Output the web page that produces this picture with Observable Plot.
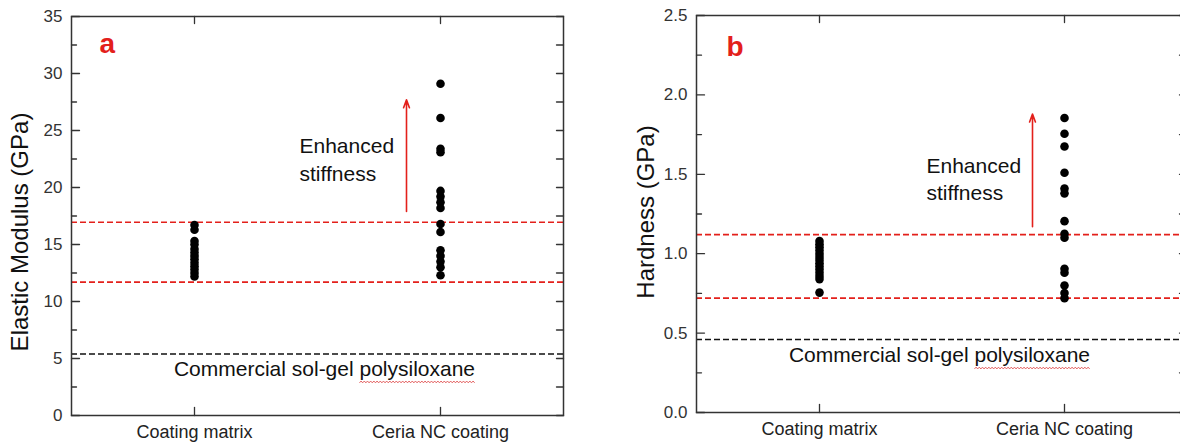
<!DOCTYPE html>
<html><head><meta charset="utf-8">
<script src="https://cdn.jsdelivr.net/npm/d3@7"></script>
<script src="https://cdn.jsdelivr.net/npm/@observablehq/plot@0.6"></script>
<style>
html,body{margin:0;padding:0;background:#fff;}
#wrap{width:1180px;height:447px;overflow:hidden;display:flex;}
#wrap > div{flex:none;width:600px;height:447px;}
</style></head>
<body><div id="wrap"><div id="pa"></div><div id="pb"></div></div>
<script>
// ---- data ----
const categories = ["Coating matrix", "Ceria NC coating"];
const matrixModulus = [16.7, 16.3, 15.3, 15.0, 14.6, 14.3, 14.0, 13.7, 13.4, 13.1, 12.8, 12.5, 12.2];
const ceriaModulus = [29.1, 26.1, 23.4, 23.1, 19.7, 19.2, 18.7, 18.2, 16.8, 16.1, 14.5, 14.0, 13.5, 13.0, 12.3];
const matrixHardness = [1.08, 1.06, 1.04, 1.02, 1.00, 0.98, 0.96, 0.94, 0.92, 0.90, 0.88, 0.86, 0.84, 0.755];
const ceriaHardness = [1.855, 1.755, 1.675, 1.51, 1.41, 1.38, 1.205, 1.125, 1.10, 0.905, 0.88, 0.80, 0.752, 0.72];
const modulusBands = [16.95, 11.7];
const hardnessBands = [1.12, 0.72];
const modulusCommercial = 5.4;
const hardnessCommercial = 0.46;
const modulusTicks = [0, 5, 10, 15, 20, 25, 30, 35];
const modulusMinorTicks = [2.5, 7.5, 12.5, 17.5, 22.5, 27.5, 32.5];
const hardnessTicks = [0, 0.5, 1.0, 1.5, 2.0, 2.5];
const hardnessMinorTicks = [0.25, 0.75, 1.25, 1.75, 2.25];
const commercialText = "Commercial sol-gel polysiloxane";
const underlinedWord = "polysiloxane";
const noteText = "Enhanced\nstiffness";

const FONT = "'Liberation Sans', Arial, Helvetica, sans-serif";
const RED = "#e3201b";
const tickShape = {draw(context, l) { context.moveTo(0, 0); context.lineTo(0, -l); }};
const TICK = {shape: tickShape, anchor: "start", stroke: "#333", strokeWidth: 1.3};

function panel(o) {
  const rows = [
    ...o.matrix.map(v => ({cat: categories[0], v})),
    ...o.ceria.map(v => ({cat: categories[1], v}))
  ];
  const all = [...o.major, ...o.minor];
  return Plot.plot({
    width: o.width, height: 447,
    marginLeft: o.ml, marginRight: o.mr, marginTop: o.mt, marginBottom: o.mb,
    style: {fontFamily: FONT, background: "transparent", color: "#222"},
    x: {type: "point", domain: categories, padding: 0.5, axis: null},
    y: {domain: o.yDomain, axis: null},
    marks: [
      Plot.ruleY(o.bands, {stroke: RED, strokeWidth: 1.6, strokeDasharray: "6,3"}),
      Plot.ruleY([o.commercial], {stroke: "#111", strokeWidth: 1.6, strokeDasharray: "6,3"}),
      Plot.dot(rows, {x: "cat", y: "v", r: 4.3, fill: "#000"}),
      Plot.frame({stroke: "#333", strokeWidth: 1.5}),
      // inward ticks on all four sides
      Plot.vector(o.major, {...TICK, y: d => d, frameAnchor: "left", rotate: 90, length: 8}),
      Plot.vector(o.minor, {...TICK, y: d => d, frameAnchor: "left", rotate: 90, length: 5}),
      Plot.vector(all, {...TICK, y: d => d, frameAnchor: "right", rotate: -90, length: 7}),
      Plot.vector(categories, {...TICK, x: d => d, frameAnchor: "top", rotate: 180, length: 7}),
      Plot.vector(categories, {...TICK, x: d => d, frameAnchor: "bottom", rotate: 0, length: 8}),
      // tick labels
      Plot.text(o.major, {y: d => d, text: o.fmt, frameAnchor: "left", textAnchor: "end", dx: -9, fontSize: 17, fill: "#333"}),
      Plot.text(categories, {x: d => d, frameAnchor: "bottom", lineAnchor: "top", dy: 10, fontSize: 18, fill: "#222"}),
      Plot.text([o.yLabel], {frameAnchor: "left", textAnchor: "middle", rotate: -90, dx: o.labelDx, dy: o.labelDy, fontSize: 24, fill: "#111"}),
      Plot.text([o.letter], {frameAnchor: "top-left", textAnchor: "start", lineAnchor: "top", dx: o.letterDx, dy: o.letterDy, fontSize: 28, fontWeight: "bold", fill: RED}),
      Plot.arrow([o.arrow], {x1: () => categories[1], x2: () => categories[1], y1: d => d[0], y2: d => d[1], dx: o.arrowDx, stroke: RED, strokeWidth: 1.6, headLength: 8, headAngle: 40}),
      Plot.text([noteText], {x: () => categories[1], y: () => o.noteY, dx: o.noteDx, textAnchor: "start", lineHeight: 1.3, fontSize: 21, fill: "#111"}),
      Plot.text([commercialText], {frameAnchor: "middle", y: () => o.commercialY, dx: o.commercialDx, fontSize: 21, fill: "#111"})
    ]
  });
}

// spell-check style wavy underline, placed from the rendered glyph positions
function addSquiggle(svg) {
  d3.select(svg).selectAll("text").filter(function() { return this.textContent === commercialText; })
    .each(function() {
      const i0 = commercialText.indexOf(underlinedWord);
      const i1 = i0 + underlinedWord.length - 1;
      const a = this.getStartPositionOfChar(i0), b = this.getEndPositionOfChar(i1);
      const y = a.y + 6, step = 1.6;
      const pts = [];
      for (let x = a.x, k = 0; x <= b.x; x += step, k++) pts.push([x, y + (k % 2 ? -0.9 : 0.9)]);
      d3.select(this.parentNode).append("path")
        .attr("transform", this.getAttribute("transform"))
        .attr("d", d3.line()(pts))
        .attr("fill", "none").attr("stroke", "#e05050").attr("stroke-width", 0.9);
    });
}

const svgA = panel({
  width: 600, ml: 71, mr: 37, mt: 16, mb: 32,
  yDomain: [0, 35], major: modulusTicks, minor: modulusMinorTicks, fmt: d3.format("d"),
  matrix: matrixModulus, ceria: ceriaModulus, bands: modulusBands, commercial: modulusCommercial,
  yLabel: "Elastic Modulus (GPa)", labelDx: -51, labelDy: 16,
  letter: "a", letterDx: 28, letterDy: 17,
  arrow: [17.9, 27.7], arrowDx: -34,
  noteY: 22.56, noteDx: -141,
  commercialY: 4.06, commercialDx: 7
});
const svgB = panel({
  width: 600, ml: 96, mr: 14, mt: 15, mb: 35,
  yDomain: [0, 2.5], major: hardnessTicks, minor: hardnessMinorTicks, fmt: d3.format(".1f"),
  matrix: matrixHardness, ceria: ceriaHardness, bands: hardnessBands, commercial: hardnessCommercial,
  yLabel: "Hardness (GPa)", labelDx: -50, labelDy: -2,
  letter: "b", letterDx: 30, letterDy: 21,
  arrow: [1.17, 1.88], arrowDx: -32,
  noteY: 1.477, noteDx: -138,
  commercialY: 0.36, commercialDx: -2
});
document.getElementById("pa").append(svgA);
document.getElementById("pb").append(svgB);
addSquiggle(svgA);
addSquiggle(svgB);
</script>
</body></html>
